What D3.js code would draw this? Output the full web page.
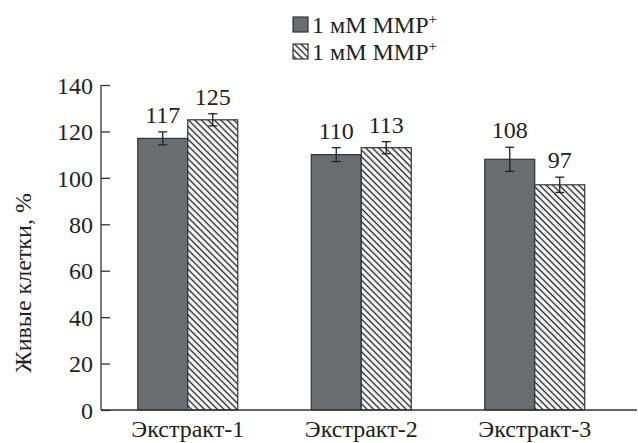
<!DOCTYPE html>
<html><head><meta charset="utf-8">
<script src="https://cdn.jsdelivr.net/npm/d3@7"></script>
<style>body{margin:0;background:#fff}svg{display:block}</style>
</head><body>
<script>
const categories = ["Экстракт-1", "Экстракт-2", "Экстракт-3"];
const seriesNames = ["1 мМ MMP", "1 мМ MMP"];
const series1 = [117, 110, 108];
const series2 = [125, 113, 97];
const err1 = [2.8, 3.0, 5.2];
const err2 = [2.6, 2.6, 3.3];
const yTicks = [0, 20, 40, 60, 80, 100, 120, 140];

// pick an installed serif font
const ctx = document.createElement("canvas").getContext("2d");
function hasFont(f) {
  const s = "Экстракт-1 мМ MMP 0123456789 Wwil";
  return ["monospace", "sans-serif"].some(b => {
    ctx.font = `40px ${b}`; const w0 = ctx.measureText(s).width;
    ctx.font = `40px "${f}", ${b}`; const w1 = ctx.measureText(s).width;
    return Math.abs(w0 - w1) > 0.5;
  });
}
const cands = ["Liberation Serif", "Times New Roman", "Tinos", "DejaVu Serif", "Noto Serif", "FreeSerif"];
const found = cands.find(hasFont);
const FONT = found ? `"${found}", serif` : "serif";

const W = 638, H = 443;
const FS = 24;
const svg = d3.select("body").append("svg").attr("width", W).attr("height", H)
  .style("font-family", FONT);
svg.append("style").text(`text{font-family:${FONT};fill:#222}`);
const defs = svg.append("defs");
const pat = defs.append("pattern").attr("id", "hatch").attr("patternUnits", "userSpaceOnUse")
  .attr("width", 4.6).attr("height", 4.6).attr("patternTransform", "rotate(45)");
pat.append("rect").attr("width", 4.6).attr("height", 4.6).attr("fill", "#fff");
pat.append("line").attr("x1", -1).attr("x2", 6).attr("y1", 2.3).attr("y2", 2.3)
  .attr("stroke", "#222").attr("stroke-width", 1.4);

const x0 = d3.scaleBand().domain(categories).range([101, 621.5]).paddingInner(0.4236).paddingOuter(0.2118);
const x1 = d3.scaleBand().domain([0, 1]).range([0, x0.bandwidth()]);
const y = d3.scaleLinear().domain([0, 140]).range([410, 85]);

const fills = ["#6b6c70", "url(#hatch)"];
const data = categories.map((c, i) => [
  {c, s: 0, v: series1[i], e: err1[i]},
  {c, s: 1, v: series2[i], e: err2[i]}
]).flat();

// bars
svg.append("g").selectAll("rect").data(data).join("rect")
  .attr("x", d => x0(d.c) + x1(d.s))
  .attr("y", d => y(d.v))
  .attr("width", x1.bandwidth())
  .attr("height", d => y(0) - y(d.v))
  .attr("fill", d => fills[d.s])
  .attr("stroke", "#333").attr("stroke-width", 1.2);

// error bars
const eg = svg.append("g").attr("stroke", "#222").attr("stroke-width", 1.3);
data.forEach(d => {
  const cx = x0(d.c) + x1(d.s) + x1.bandwidth() / 2;
  eg.append("line").attr("x1", cx).attr("x2", cx).attr("y1", y(d.v + d.e)).attr("y2", y(d.v - d.e));
  eg.append("line").attr("x1", cx - 4.5).attr("x2", cx + 4.5).attr("y1", y(d.v + d.e)).attr("y2", y(d.v + d.e));
  eg.append("line").attr("x1", cx - 4.5).attr("x2", cx + 4.5).attr("y1", y(d.v - d.e)).attr("y2", y(d.v - d.e));
});

// value labels
svg.append("g").selectAll("text").data(data).join("text")
  .attr("x", d => x0(d.c) + x1(d.s) + x1.bandwidth() / 2)
  .attr("y", d => y(d.v + d.e) - 9)
  .attr("text-anchor", "middle")
  .attr("font-family", FONT)
  .attr("font-size", FS)
  .text(d => d.v);

// y axis
const yAxis = d3.axisLeft(y).tickValues(yTicks).tickSize(-9).tickPadding(8);
const ga = svg.append("g").attr("transform", "translate(101,0)").call(yAxis);
ga.attr("font-family", FONT).attr("font-size", FS);
ga.select(".domain").attr("stroke", "#333").attr("stroke-width", 1.3).attr("d", `M0,${y(140)}V${y(0)}`);
ga.selectAll(".tick line").attr("stroke", "#333").attr("stroke-width", 1.3);
ga.selectAll(".tick text").attr("x", -8).attr("dy", "0.34em").attr("fill", "#222");

// x axis
const xAxis = d3.axisBottom(x0).tickSize(0).tickPadding(0);
const gx = svg.append("g").attr("transform", `translate(0,${y(0)})`).call(xAxis);
gx.attr("font-family", FONT).attr("font-size", FS);
gx.select(".domain").attr("stroke", "#333").attr("stroke-width", 1.3).attr("d", `M101,0H${W - 1}`);
gx.selectAll(".tick text").attr("y", 27).attr("dy", 0).attr("fill", "#222");

// y label
svg.append("text").attr("transform", "translate(31,283) rotate(-90)")
  .attr("text-anchor", "middle").attr("font-family", FONT).attr("font-size", FS)
  .text("Живые клетки, %");

// legend
const lg = svg.append("g");
seriesNames.forEach((n, i) => {
  const ly = 17 + i * 27;
  lg.append("rect").attr("x", 293).attr("y", ly).attr("width", 15).attr("height", 15)
    .attr("fill", fills[i]).attr("stroke", "#333").attr("stroke-width", 1.2);
  const t = lg.append("text").attr("x", 312).attr("y", ly + 16).attr("font-family", FONT).attr("font-size", FS);
  t.append("tspan").text(n);
  t.append("tspan").attr("dy", -9).attr("font-size", 15).text("+");
});
</script>
</body></html>
